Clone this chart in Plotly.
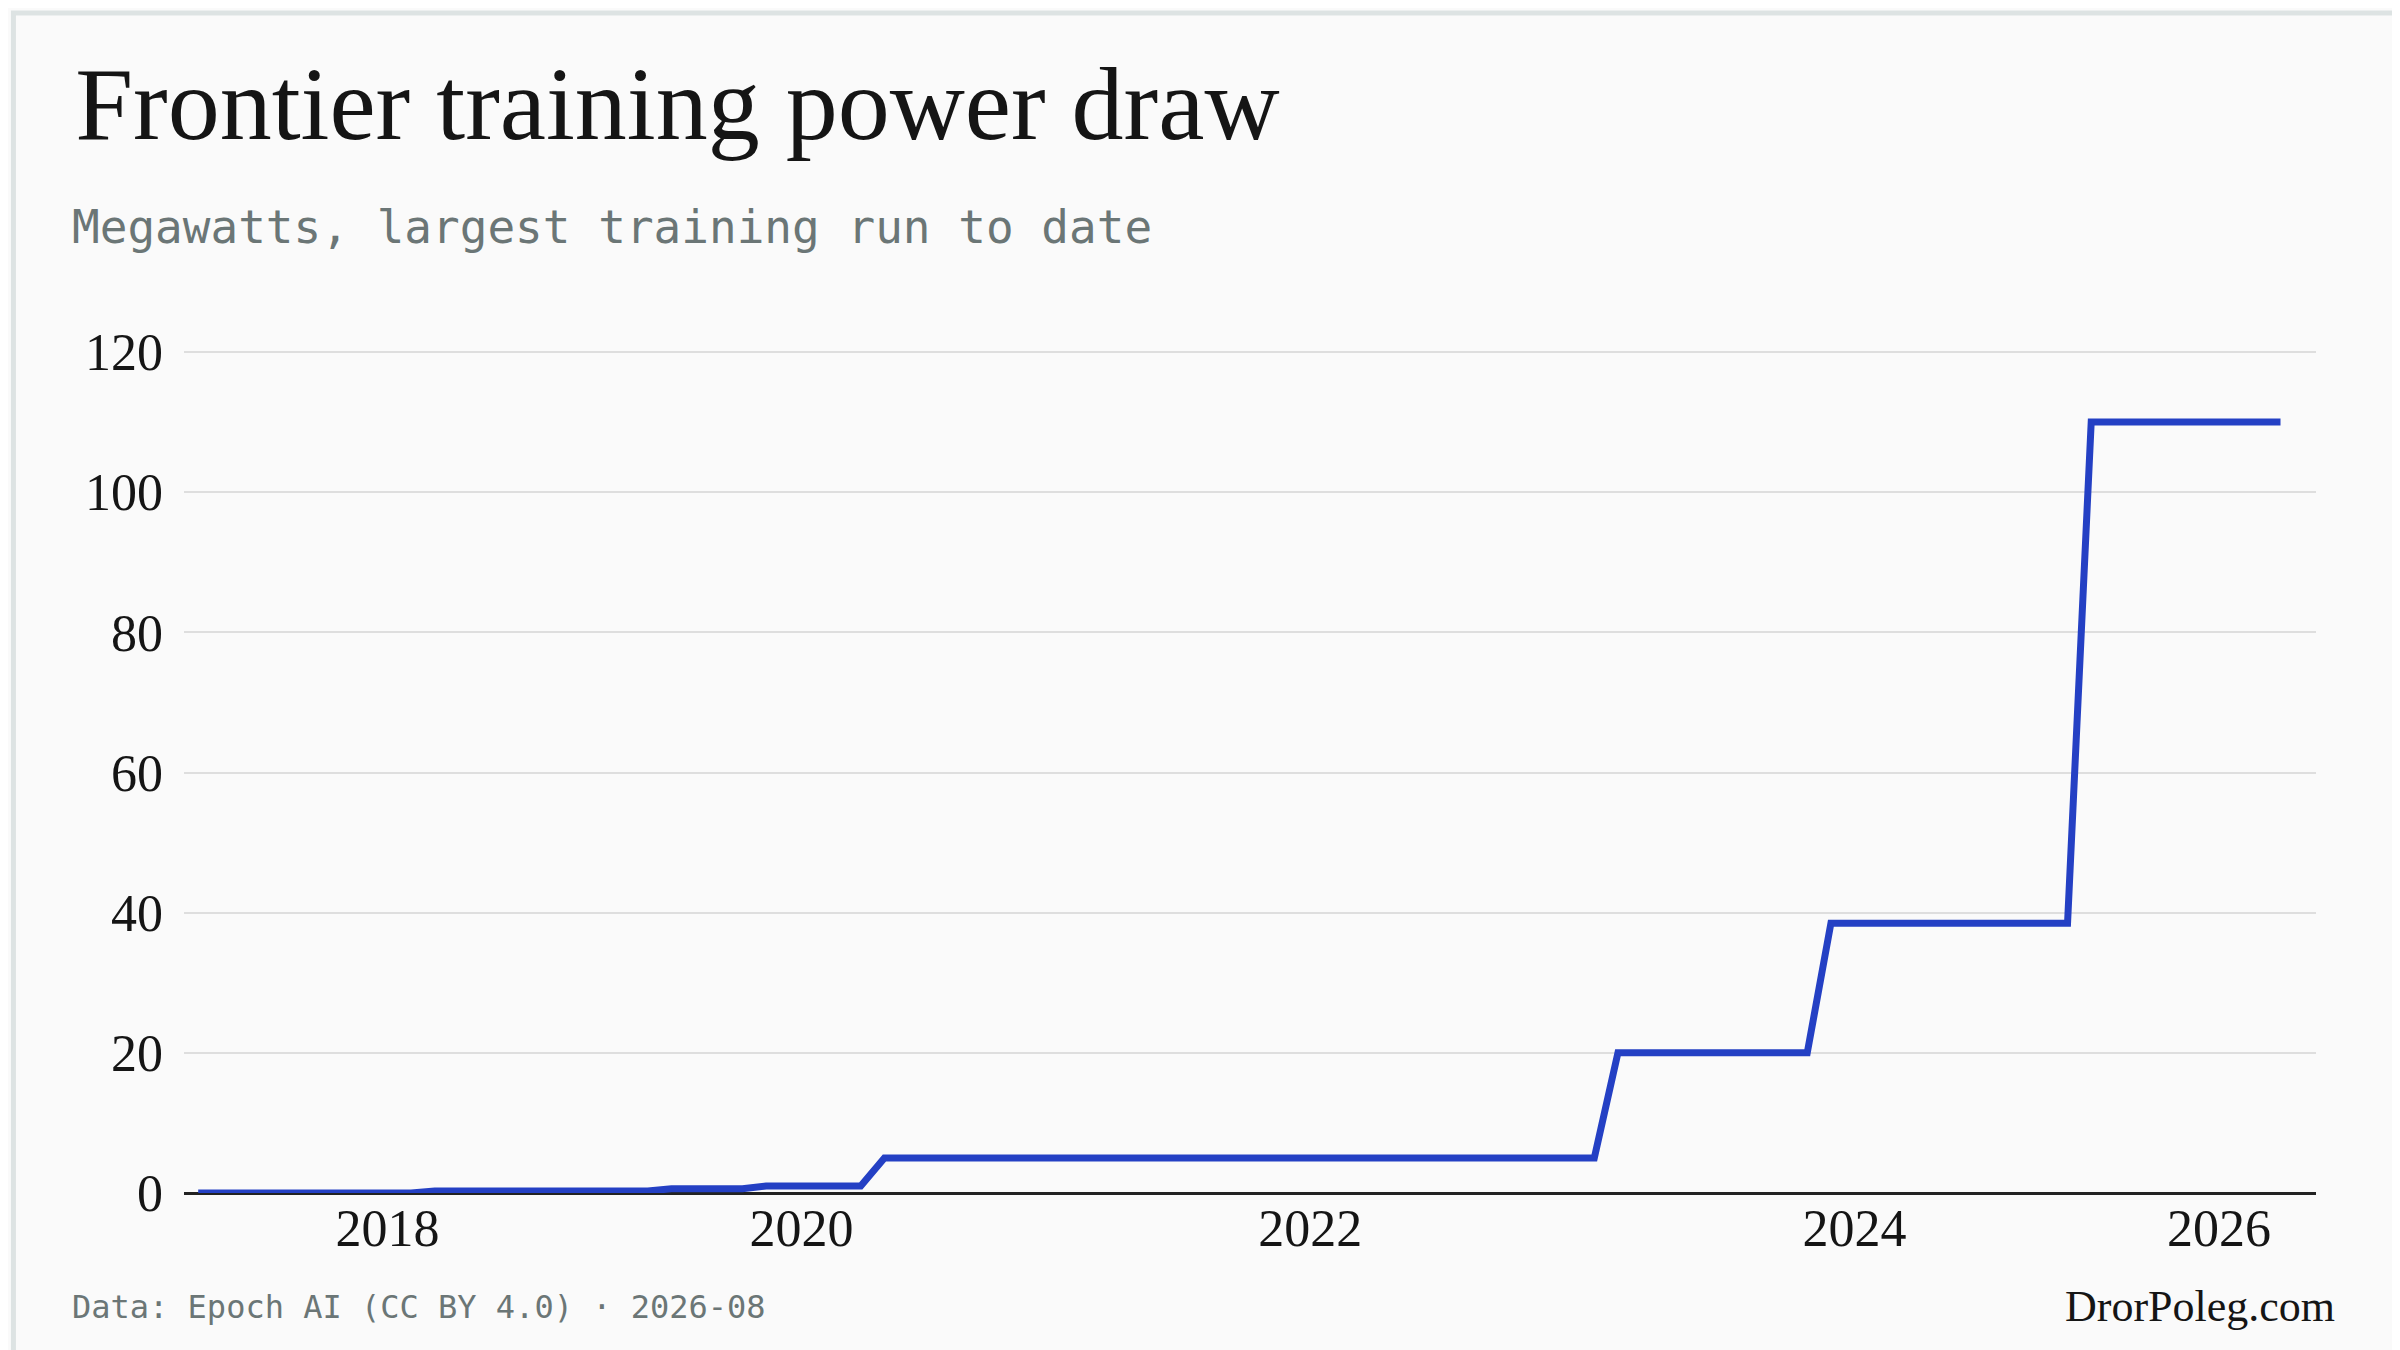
import plotly.graph_objects as go

# Largest training run power draw, stepped series (x = sample index)
step_index = [0, 9, 10, 19, 20, 23, 24, 28, 29, 59, 60, 68, 69, 79, 80, 88]
megawatts = [0, 0, 0.3, 0.3, 0.6, 0.6, 1.0, 1.0, 5, 5, 20, 20, 38.5, 38.5, 110, 110]
tick_pos = [8, 25.5, 47, 70, 85.4]
tick_labels = ['2018', '2020', '2022', '2024', '2026']

serif = 'Liberation Serif'
mono = 'DejaVu Sans Mono'

fig = go.Figure()
fig.add_trace(go.Scatter(
    x=step_index,
    y=megawatts,
    mode='lines',
    line=dict(color='#2440c4', width=7),
    showlegend=False))

fig.update_layout(
    width=2400, height=1350,
    paper_bgcolor='#fafafa',
    plot_bgcolor='#fafafa',
    margin=dict(l=176, r=92, t=330, b=165),
    title=dict(text='Frontier training power draw', x=0.028, xanchor='left',
               y=0.93, yanchor='middle',
               font=dict(family=serif, size=104, color='#151515')),
    xaxis=dict(range=[-0.6, 89.5], tickvals=tick_pos, ticktext=tick_labels,
               showgrid=False, zeroline=False, showline=False,
               tickfont=dict(family=serif, size=52, color='#151515')),
    yaxis=dict(range=[0, 122], tickvals=[0, 20, 40, 60, 80, 100, 120],
               gridcolor='#dedede', gridwidth=1.5, zeroline=True,
               zerolinecolor='#222222', zerolinewidth=2.5, ticklabelstandoff=20,
               tickfont=dict(family=serif, size=52, color='#151515')),
    shapes=[dict(type='rect', xref='paper', yref='paper', x0=-0.08, x1=1.04,
                 y0=-0.187, y1=1.38, line=dict(color='#dde3e3', width=5))],
    annotations=[
        dict(text='Megawatts, largest training run to date', xref='paper', yref='paper',
             x=-0.0535, y=1.13, xanchor='left', yanchor='middle', showarrow=False,
             font=dict(family=mono, size=46, color='#6b7676')),
        dict(text='Data: Epoch AI (CC BY 4.0) · 2026-08', xref='paper', yref='paper',
             x=-0.0535, y=-0.133, xanchor='left', yanchor='middle', showarrow=False,
             font=dict(family=mono, size=32, color='#6b7676')),
        dict(text='DrorPoleg.com', xref='paper', yref='paper',
             x=1.01, y=-0.133, xanchor='right', yanchor='middle', showarrow=False,
             font=dict(family=serif, size=44, color='#151515')),
    ],
)

fig.write_html("out.html")
